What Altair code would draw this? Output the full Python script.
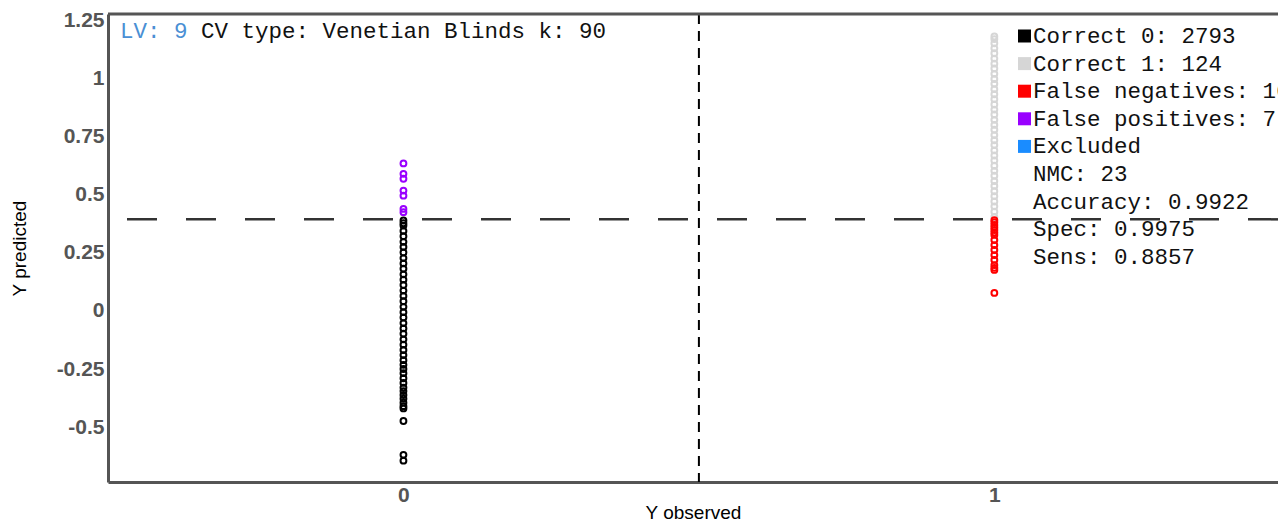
import altair as alt
import pandas as pd

# ---- data ----
obs0_correct = [0.39, 0.378, 0.368, 0.345, 0.322, 0.298, 0.276, 0.252, 0.228, 0.205,
                0.182, 0.158, 0.135, 0.112, 0.088, 0.065, 0.042, 0.018, -0.005, -0.028,
                -0.052, -0.075, -0.098, -0.122, -0.145, -0.168, -0.19, -0.212, -0.232,
                -0.25, -0.268, -0.29, -0.31, -0.33, -0.345, -0.362, -0.378, -0.395,
                -0.41, -0.42, -0.474, -0.62, -0.645]
obs0_false_pos = [0.636, 0.591, 0.570, 0.519, 0.497, 0.44, 0.426]
obs1_correct = [0.405, 0.428, 0.451, 0.472, 0.495, 0.516, 0.539, 0.56, 0.583, 0.604,
                0.626, 0.649, 0.67, 0.692, 0.715, 0.736, 0.758, 0.781, 0.802, 0.824,
                0.847, 0.868, 0.89, 0.913, 0.934, 0.956, 0.979, 1.0, 1.022, 1.045,
                1.066, 1.088, 1.111, 1.132, 1.154, 1.172, 1.183]
obs1_false_neg = [0.392, 0.383, 0.371, 0.36, 0.349, 0.338, 0.328, 0.306, 0.284,
                  0.263, 0.241, 0.22, 0.198, 0.186, 0.177, 0.078]

classes = ["Correct 0", "Correct 1", "False negatives", "False positives", "Excluded"]
class_colors = ["#000000", "#d6d6d6", "#ff0000", "#9900ff", "#1a8cff"]
threshold = [0.395]
class_split = [0.5]
x_ticks = [0, 1]
y_ticks = [-0.5, -0.25, 0, 0.25, 0.5, 0.75, 1, 1.25]
legend_lines = ["Correct 0: 2793", "Correct 1: 124", "False negatives: 16",
                "False positives: 7", "Excluded", "NMC: 23", "Accuracy: 0.9922",
                "Spec: 0.9975", "Sens: 0.8857"]
header_lv = "LV: 9"
header_rest = "CV type: Venetian Blinds k: 90"

# ---- build tables ----
rows = []
for v in obs0_correct:
    rows.append({"obs": 0, "pred": v, "cls": "Correct 0"})
for v in obs0_false_pos:
    rows.append({"obs": 0, "pred": v, "cls": "False positives"})
for v in obs1_correct:
    rows.append({"obs": 1, "pred": v, "cls": "Correct 1"})
for v in obs1_false_neg:
    rows.append({"obs": 1, "pred": v, "cls": "False negatives"})
pts = pd.DataFrame(rows)

W, H = 1170, 468
xscale = alt.Scale(domain=[-0.5, 1.48], nice=False, zero=False)
yscale = alt.Scale(domain=[-0.737, 1.28], nice=False, zero=False)

points = alt.Chart(pts).mark_point(
    shape="circle", filled=False, size=34, strokeWidth=2, opacity=1
).encode(
    x=alt.X("obs:Q", scale=xscale,
            axis=alt.Axis(values=x_ticks, title="Y observed", labelExpr="'' + datum.value")),
    y=alt.Y("pred:Q", scale=yscale,
            axis=alt.Axis(values=y_ticks, title="Y predicted", labelExpr="'' + datum.value")),
    color=alt.Color("cls:N", scale=alt.Scale(domain=classes, range=class_colors), legend=None),
)

thr = alt.Chart(pd.DataFrame({"t": threshold})).mark_rule(
    color="#333333", strokeWidth=2.5, strokeDash=[30, 29]
).encode(y=alt.Y("t:Q", scale=yscale))

split = alt.Chart(pd.DataFrame({"s": class_split})).mark_rule(
    color="#000000", strokeWidth=2, strokeDash=[10, 7]
).encode(x=alt.X("s:Q", scale=xscale))

top_border = alt.Chart(pd.DataFrame({"a": [0]})).mark_rule(
    color="#555555", strokeWidth=3
).encode(x=alt.value(0), x2=alt.value(W), y=alt.value(0))

mono = "Courier New, Liberation Mono, monospace"
hdr1 = alt.Chart(pd.DataFrame({"t": [header_lv]})).mark_text(
    font=mono, fontSize=22.5, align="left", baseline="middle", color="#4a8fd4"
).encode(text="t:N", x=alt.value(12), y=alt.value(17))
hdr2 = alt.Chart(pd.DataFrame({"t": [header_rest]})).mark_text(
    font=mono, fontSize=22.5, align="left", baseline="middle", color="#111111"
).encode(text="t:N", x=alt.value(93), y=alt.value(17))

layers = [thr, split, points, top_border, hdr1, hdr2]
step = 27.6
for i, line in enumerate(legend_lines):
    yy = 22 + i * step
    layers.append(alt.Chart(pd.DataFrame({"t": [line]})).mark_text(
        font=mono, fontSize=22.5, align="left", baseline="middle", color="#111111"
    ).encode(text="t:N", x=alt.value(925), y=alt.value(yy)))
    if i < len(classes):
        layers.append(alt.Chart(pd.DataFrame({"c": [classes[i]]})).mark_square(
            size=169, opacity=1, filled=True
        ).encode(
            x=alt.value(916.5), y=alt.value(yy),
            color=alt.Color("c:N", scale=alt.Scale(domain=classes, range=class_colors), legend=None),
        ))

chart = alt.layer(*layers).properties(
    width=W, height=H,
    autosize=alt.AutoSizeParams(type="none"),
    padding={"left": 100, "top": 6, "right": 0, "bottom": 38},
).configure_view(stroke=None).configure_axis(
    grid=False, ticks=False, domainColor="#555555", domainWidth=3,
    labelFont="Liberation Sans", labelFontSize=21, labelFontWeight="bold",
    labelColor="#555555", titleFont="Liberation Sans", titleFontSize=19,
    titleFontWeight="normal", titleColor="#000000",
).configure_axisY(labelPadding=4, titlePadding=27).configure_axisX(
    labelPadding=2, titleY=36, titleBaseline="alphabetic"
)

chart.save("out.html", embed_options={"renderer": "svg", "actions": False})
